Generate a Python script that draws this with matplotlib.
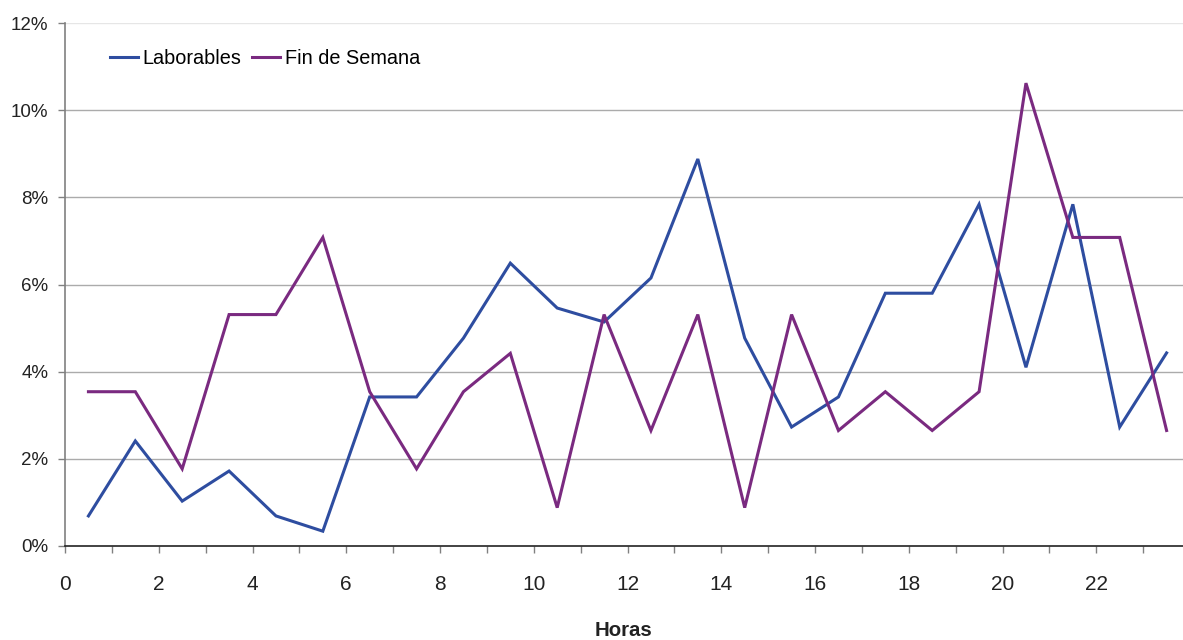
import matplotlib
matplotlib.use("Agg")
import matplotlib.pyplot as plt
from matplotlib.ticker import FuncFormatter, MultipleLocator

plt.rcParams['font.family'] = ['Liberation Sans', 'DejaVu Sans']

hours = [h + 0.5 for h in range(24)]
laborables = [0.69, 2.41, 1.03, 1.72, 0.69, 0.34, 3.42, 3.42, 4.77, 6.49, 5.46, 5.14,
              6.15, 8.88, 4.77, 2.73, 3.42, 5.80, 5.80, 7.84, 4.10, 7.84, 2.73, 4.43]
fin_semana = [3.54, 3.54, 1.77, 5.31, 5.31, 7.08, 3.54, 1.77, 3.54, 4.42, 0.88, 5.31,
              2.65, 5.31, 0.88, 5.31, 2.65, 3.54, 2.65, 3.54, 10.62, 7.08, 7.08, 2.65]
series_names = ["Laborables", "Fin de Semana"]
colors = ["#2E4DA0", "#7A2A80"]
y_grid = [2, 4, 6, 8, 10]

W, H = 1183, 640
fig = plt.figure(figsize=(W / 100, H / 100), dpi=100)
ax = fig.add_axes([65 / W, (H - 546) / H, (W - 65) / W, (546 - 23) / H])

ax.plot(hours, laborables, color=colors[0], lw=2.2, label=series_names[0], solid_joinstyle='miter', zorder=3)
ax.plot(hours, fin_semana, color=colors[1], lw=2.2, label=series_names[1], solid_joinstyle='miter', zorder=3)

ax.set_xlim(0, 23.85)
ax.set_ylim(0, 12)
ax.xaxis.set_major_locator(MultipleLocator(2))
ax.xaxis.set_minor_locator(MultipleLocator(1))
ax.yaxis.set_major_locator(MultipleLocator(2))
ax.yaxis.set_major_formatter(FuncFormatter(lambda v, p: f"{v:.0f}%"))

for y in y_grid:
    ax.axhline(y, color='#ABABAB', lw=1, zorder=1)
ax.axhline(12, color='#E6E6E6', lw=1, zorder=1)

for s in ['top', 'right']:
    ax.spines[s].set_visible(False)
ax.spines['left'].set_color('#808080')
ax.spines['left'].set_linewidth(1.2)
ax.spines['bottom'].set_color('#222222')
ax.spines['bottom'].set_linewidth(1.2)

ax.tick_params(axis='both', which='both', direction='out', colors='#222222')
ax.tick_params(axis='x', which='both', length=5, width=1, color='#808080', pad=16, labelsize=15)
ax.tick_params(axis='y', which='major', length=5, width=1, color='#808080', pad=7, labelsize=13.5)

ax.set_xlabel("Horas", fontsize=14.7, fontweight='bold', labelpad=19, color='#222222')

leg = ax.legend(loc='upper left', bbox_to_anchor=(0.024, 0.984), ncol=2, frameon=False,
                fontsize=14.3, handlelength=1.4, handletextpad=0.25, columnspacing=0.55)

fig.savefig("out.png", dpi=100)
